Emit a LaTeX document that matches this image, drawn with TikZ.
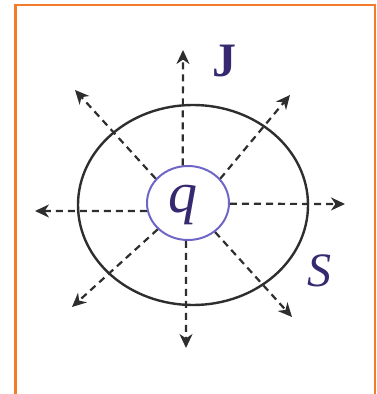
\documentclass[tikz,border=0pt]{standalone}
\usepackage{fontspec}
\setmainfont{Liberation Serif}
\usetikzlibrary{arrows.meta,shapes.geometric}
\tikzset{>={Stealth[length=7pt,width=6.5pt,inset=2.2pt]}}
\definecolor{FrameOrange}{HTML}{F47B2A}
\definecolor{ChargeViolet}{HTML}{6E66C6}
\definecolor{LabelInk}{HTML}{37296F}
\definecolor{LineGrey}{HTML}{2E2E2E}
\tikzset{
  FluxArrow/.style={LineGrey, line width=1.1pt, dash pattern=on 3.5pt off 2.5pt, ->},
  SymbolLabel/.style={LabelInk, inner sep=0pt}
}

\begin{document}
\begin{tikzpicture}[x=0.5pt,y=-0.5pt]
  \useasboundingbox (0,0) rectangle (376,394);
  \draw[FrameOrange, line width=1.3pt] (15.5,394) -- (15.5,5) -- (375,5) -- (375,394);

  \node[ellipse, draw=LineGrey, line width=1.2pt, minimum width=115pt, minimum height=100pt, inner sep=0pt] (surface) at (193,205) {};
  \node[ellipse, draw=ChargeViolet, line width=1pt, minimum width=41pt, minimum height=37pt, inner sep=0pt] (charge) at (188,203) {};
  \node[SymbolLabel, font=\fontsize{29}{29}\selectfont\itshape] (qlabel) at (183,205) {q};

  \coordinate (tipN) at (183,50);
  \coordinate (tipS) at (186,348);
  \coordinate (tipW) at (35,211);
  \coordinate (tipE) at (345,204);
  \coordinate (tipNW) at (75,90);
  \coordinate (tipNE) at (290,95);
  \coordinate (tipSW) at (72,307);
  \coordinate (tipSE) at (292,317);

  \foreach \a/\t in {98/N, 267/S, 191/W, 359/E, 143/NW, 37/NE, 221/SW, 313/SE}
    \draw[FluxArrow] (charge.\a) -- (tip\t);

  \node[SymbolLabel, font=\fontsize{24}{24}\selectfont\bfseries] (Jlabel) at (224,61) {J};
  \node[SymbolLabel, font=\fontsize{24}{24}\selectfont\itshape] (Slabel) at (319,271) {S};
\end{tikzpicture}
\end{document}
